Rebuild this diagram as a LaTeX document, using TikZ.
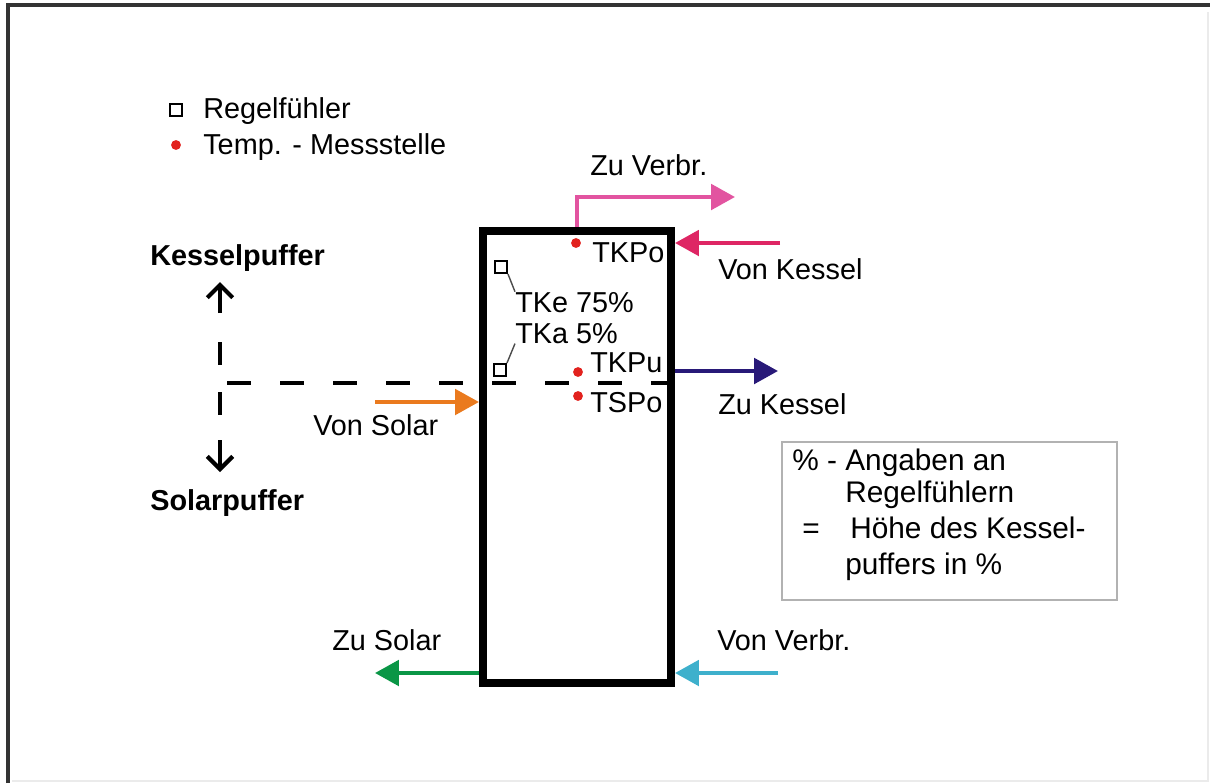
\documentclass[tikz,border=0pt]{standalone}
\usepackage{fontspec}
\setmainfont{Liberation Sans}
\usetikzlibrary{arrows.meta}

\definecolor{verbrpink}{RGB}{226,84,160}
\definecolor{kesselrot}{RGB}{222,38,100}
\definecolor{kesselblau}{RGB}{40,25,120}
\definecolor{solarorange}{RGB}{234,122,30}
\definecolor{solargruen}{RGB}{10,150,70}
\definecolor{verbrcyan}{RGB}{62,176,204}
\definecolor{messrot}{RGB}{226,34,30}

\tikzset{
  lbl/.style={font=\fontsize{20.5}{25}\selectfont, inner sep=0pt, anchor=base west},
  notiz/.style={lbl, font=\fontsize{21.2}{25}\selectfont},
  pipe/.style={line width=3pt, -{Triangle[length=17pt,width=18pt]}},
  richtung/.style={line width=3pt, -{Straight Barb[length=9pt,width=18pt]}},
  fuehler/.style={draw, line width=1.4pt, minimum size=8.5pt, inner sep=0pt},
  messpunkt/.style={circle, fill=messrot, inner sep=0pt, minimum size=7pt},
  leader/.style={black!70, line width=1pt},
}

\begin{document}
\begin{tikzpicture}[x=0.025cm, y=-0.025cm]
    \useasboundingbox (0,0) rectangle (1210,783);

    % Frame
    \draw[line width=3.5pt, black!80] (8,783) -- (8,5) -- (1210,5);
    \draw[line width=1pt, black!8] (1208,12) -- (1208,781) -- (12,781);

    % Legend
    \node[fuehler] (legsq) at (176,110) {};
    \node[messpunkt] (legdot) at (176,145) {};
    \node[lbl] (legrf) at (203,118) {Regelfühler};
    \node[lbl] (legms) at (203,154) {Temp. - Messstelle};

    % Pipe ends outside the tank
    \coordinate (zv) at (735,197);
    \coordinate (vk) at (780,243);
    \coordinate (zk) at (778,371);
    \coordinate (vs) at (375,402);
    \coordinate (zs) at (375,673);
    \coordinate (vv) at (778,673);

    % Tank
    \node[draw, line width=5.7pt, minimum width=4.7cm, minimum height=11.3cm] (tank) at (577,457) {};

    % Connections
    \draw[pipe, verbrpink] (tank.north) |- (zv);
    \draw[pipe, kesselrot] (vk) -- (vk -| tank.east);
    \draw[pipe, kesselblau] (zk -| tank.east) -- (zk);
    \draw[pipe, solarorange] (vs) -- (vs -| tank.west);
    \draw[pipe, solargruen] (zs -| tank.west) -- (zs);
    \draw[pipe, verbrcyan] (vv) -- (vv -| tank.east);

    \node[lbl] (lzv) at (590,175) {Zu Verbr.};
    \node[lbl] (lvk) at (718,279) {Von Kessel};
    \node[lbl] (lzk) at (718,414) {Zu Kessel};
    \node[lbl] (lvs) at (313,435) {Von Solar};
    \node[lbl] (lzs) at (332,650) {Zu Solar};
    \node[lbl] (lvv) at (717,650) {Von Verbr.};

    % Boundary Kessel-/Solarpuffer
    \coordinate (grenze) at (227,383);
    \draw[line width=3pt, dash pattern=on 17.1pt off 20.6pt] (grenze) -- (grenze -| tank.east);

    \coordinate (auf1) at (220,313);
    \coordinate (auf2) at (220,282);
    \coordinate (ab1) at (220,440);
    \coordinate (ab2) at (220,472);
    \draw[richtung] (auf1) -- (auf2);
    \draw[richtung] (ab1) -- (ab2);
    \draw[line width=3pt] (220,342) -- (220,365);
    \draw[line width=3pt] (220,392) -- (220,415);

    \node[lbl, font=\fontsize{20.5}{25}\selectfont\bfseries] (kp) at (150,265) {Kesselpuffer};
    \node[lbl, font=\fontsize{20.5}{25}\selectfont\bfseries] (sp) at (150,510) {Solarpuffer};

    % Sensors in the tank
    \node[messpunkt] (tkpo) at (576,243) {};
    \node[messpunkt] (tkpu) at (578,372) {};
    \node[messpunkt] (tspo) at (578,396) {};
    \node[lbl] (ltkpo) at (592,262) {TKPo};
    \node[lbl] (ltkpu) at (590,372) {TKPu};
    \node[lbl] (ltspo) at (590,412) {TSPo};

    \node[fuehler, fill=white] (tke) at (501,267) {};
    \node[fuehler, fill=white] (tka) at (500,370) {};
    \node[lbl] (ltke) at (515,312) {TKe 75\%};
    \node[lbl] (ltka) at (515,343) {TKa 5\%};
    \draw[leader] (tke.south east) -- (ltke.north west);
    \draw[leader] (ltka.south west) -- (tka.north east);

    % Note
    \draw[black!30, line width=1pt] (782,442) rectangle (1117,600);
    \node[notiz] (n1) at (792,470) {\% -};
    \node[notiz] (n2) at (845,470) {Angaben an};
    \node[notiz] (n3) at (845,502) {Regelfühlern};
    \node[notiz] (n4) at (802,538) {=};
    \node[notiz] (n5) at (850,538) {Höhe des Kessel-};
    \node[notiz] (n6) at (845,574) {puffers in \%};
\end{tikzpicture}
\end{document}
